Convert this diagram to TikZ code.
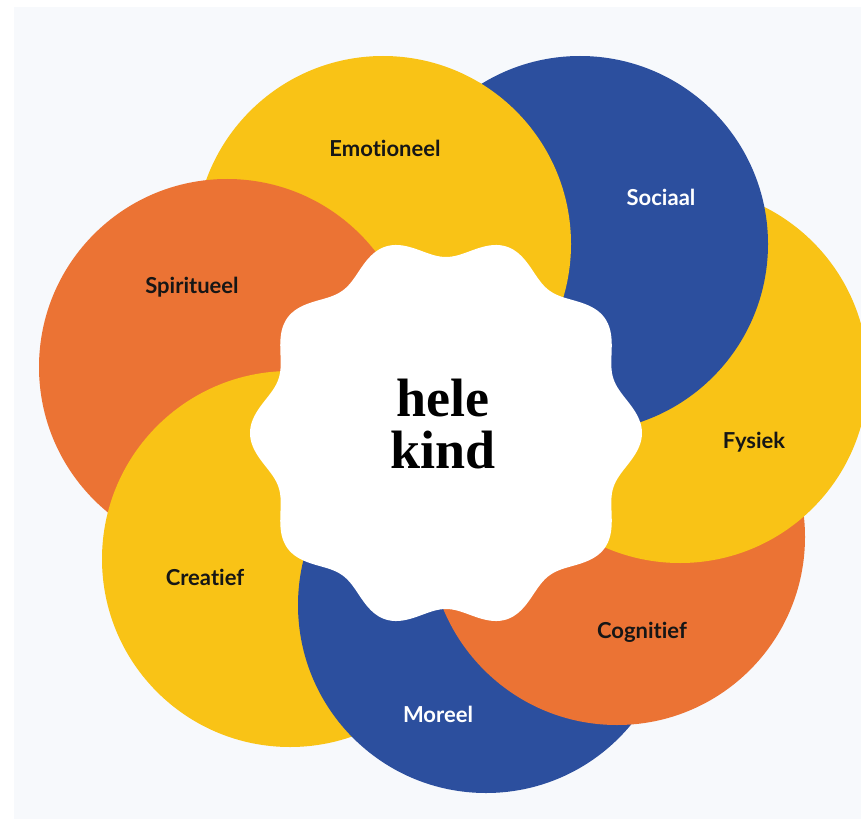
\documentclass[tikz,border=0pt]{standalone}
\usepackage{fontspec}
\usepackage{tikz}
\usetikzlibrary{calc}
\setmainfont{Liberation Serif}
\newfontfamily\petalfont{Lato}[Ligatures=NoCommon]
\definecolor{bgpale}{HTML}{F7F9FC}
\definecolor{petalyellow}{HTML}{F9C316}
\definecolor{petalorange}{HTML}{EB7334}
\definecolor{petalblue}{HTML}{2C4F9E}
\definecolor{inkdark}{HTML}{161616}

\begin{document}
\begin{tikzpicture}[x=1pt,y=-1pt,
tag/.style = {
  font=\petalfont\bfseries\fontsize{22}{22}\selectfont, text=inkdark, inner sep=0pt
},
tagwhite/.style = {tag, text=white},
core/.style = {fill=white, draw=none},
hub/.style = {
  align=center, text=black, inner sep=0pt,
  font=\bfseries\fontsize{54}{52}\selectfont
}
]
\useasboundingbox (0,0) rectangle (861,829);
\clip (0,0) rectangle (861,829);
\fill[white] (0,0) rectangle (861,829);
\fill[bgpale] (14,7) rectangle (861,819);

\pgfmathsetmacro{\rad}{188}
\pgfmathsetmacro{\radclip}{\rad+2}
\coordinate (emo) at (383,244);
\coordinate (soc) at (580,244);
\coordinate (fys) at (680,375);
\coordinate (cog) at (617,537);
\coordinate (mor) at (486,605);
\coordinate (cre) at (290,559);
\coordinate (spi) at (227,367);
\coordinate (mid) at (446,433);

% each petal lies over the next one clockwise
\fill[petalyellow] (emo) circle (\rad pt);
\fill[petalorange] (spi) circle (\rad pt);
\fill[petalyellow] (cre) circle (\rad pt);
\fill[petalblue]   (mor) circle (\rad pt);
\fill[petalorange] (cog) circle (\rad pt);
\fill[petalyellow] (fys) circle (\rad pt);
\fill[petalblue]   (soc) circle (\rad pt);
% close the ring: emotioneel again, over sociaal only
\begin{scope}
  \clip (soc) circle (\radclip pt);
  \fill[petalyellow] (emo) circle (\rad pt);
\end{scope}

\fill[core,shift={(mid)}] plot[domain=0:359, samples=360] (\x:{186+10*cos(10*\x)}) -- cycle;

\node[tag] (emolbl) at (385,148) {Emotioneel};
\node[tagwhite] (soclbl) at (661,197) {Sociaal};
\node[tag] (fyslbl) at (754,442) {Fysiek};
\node[tag] (coglbl) at (642,632) {Cognitief};
\node[tagwhite] (morlbl) at (438,714) {Moreel};
\node[tag] (crelbl) at (205,577) {Creatief};
\node[tag] (spilbl) at (192,287) {Spiritueel};

\node[hub] (kind) at (443,424) {hele\\kind};
\end{tikzpicture}
\end{document}
